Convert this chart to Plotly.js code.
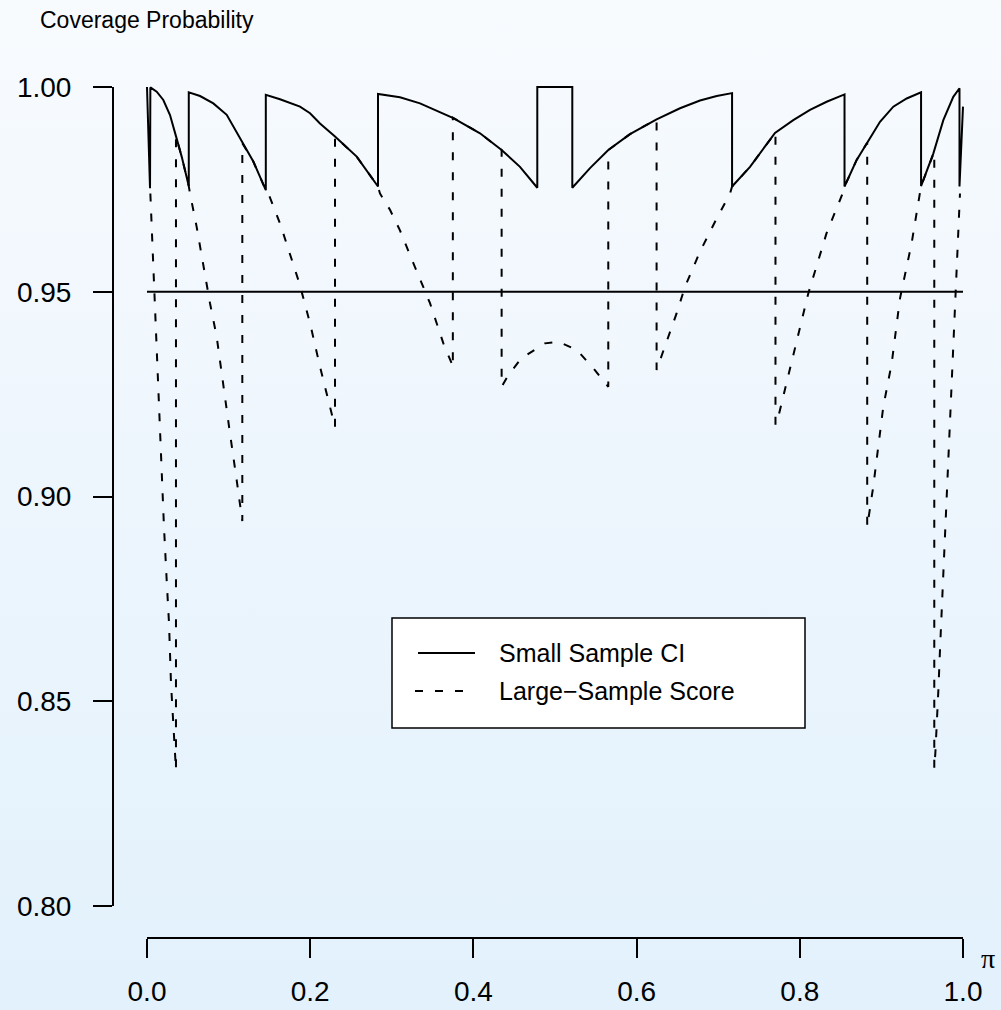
<!DOCTYPE html>
<html>
<head>
<meta charset="utf-8">
<script src="https://cdn.plot.ly/plotly-3.0.1.min.js"></script>
<style>
  html, body { margin: 0; padding: 0; }
  body { width: 1001px; height: 1010px; background: linear-gradient(to bottom, #f8fbfe 0%, #eef6fd 45%, #e2f1fc 100%); }
  #chart { width: 1001px; height: 1010px; }
</style>
</head>
<body>
<div id="chart"></div>
<script>
// ---- Data ----
// Small-sample CI coverage (solid line)
const smallX = [0.000, 0.0037, 0.0041, 0.0119, 0.0200, 0.0282, 0.0355, 0.0425, 0.0512, 0.0512, 0.0650, 0.0813, 0.0977, 0.1168, 0.1303, 0.1456, 0.1456, 0.1630, 0.1875, 0.1998, 0.2120, 0.2304, 0.2570, 0.2831, 0.2831, 0.3100, 0.3346, 0.3754, 0.4081, 0.4346, 0.4571, 0.4783, 0.4783, 0.5212, 0.5212, 0.5429, 0.5653, 0.5919, 0.6245, 0.6532, 0.6777, 0.6982, 0.7170, 0.7170, 0.7390, 0.7696, 0.7920, 0.8125, 0.8329, 0.8548, 0.8548, 0.8697, 0.8820, 0.8983, 0.9146, 0.9310, 0.9486, 0.9486, 0.9637, 0.9759, 0.9881, 0.9957, 0.9957, 1.0];
const smallY = [1.000, 0.9753, 0.9999, 0.99885, 0.99683, 0.99316, 0.9880, 0.9830, 0.9758, 0.9987, 0.9978, 0.9960, 0.9932, 0.9863, 0.9818, 0.9748, 0.9981, 0.9970, 0.9952, 0.9936, 0.9911, 0.9879, 0.9830, 0.9757, 0.9983, 0.9975, 0.9960, 0.9924, 0.9887, 0.9846, 0.9805, 0.9754, 1.000, 1.000, 0.9754, 0.9802, 0.9846, 0.9885, 0.9921, 0.9948, 0.9967, 0.9978, 0.9985, 0.9757, 0.9805, 0.9888, 0.9919, 0.9944, 0.9964, 0.9982, 0.9757, 0.9822, 0.9863, 0.9915, 0.9952, 0.9972, 0.9987, 0.9758, 0.9838, 0.9919, 0.9976, 0.9997, 0.9757, 0.9952];

// Large-sample score interval coverage (dashed line)
const scoreX = [0.0041, 0.0049, 0.0065, 0.0078, 0.0098, 0.0119, 0.0139, 0.0159, 0.0180, 0.0208, 0.0241, 0.0270, 0.0294, 0.0323, 0.0355, 0.0355, 0.0425, 0.0512, 0.0527, 0.0608, 0.0690, 0.0772, 0.0854, 0.0935, 0.1017, 0.1099, 0.1168, 0.1168, 0.1303, 0.1456, 0.1487, 0.1630, 0.1867, 0.1998, 0.2059, 0.2120, 0.2181, 0.2243, 0.2304, 0.2304, 0.2570, 0.2831, 0.2855, 0.2978, 0.3100, 0.3264, 0.3387, 0.3468, 0.3550, 0.3632, 0.3734, 0.3748, 0.3748, 0.4081, 0.4346, 0.4346, 0.4430, 0.4590, 0.4877, 0.5041, 0.5266, 0.5472, 0.5653, 0.5653, 0.5919, 0.6245, 0.6245, 0.6327, 0.6490, 0.6593, 0.6777, 0.6961, 0.7145, 0.7170, 0.7390, 0.7702, 0.7702, 0.7737, 0.7859, 0.8002, 0.8104, 0.8328, 0.8533, 0.8548, 0.8697, 0.8826, 0.8826, 0.8900, 0.9023, 0.9126, 0.9188, 0.9228, 0.9370, 0.9473, 0.9486, 0.9648, 0.9648, 0.9661, 0.9677, 0.9698, 0.9718, 0.9739, 0.9759, 0.9788, 0.9840, 0.9902, 0.9963];
const scoreY = [0.9740, 0.9700, 0.9618, 0.9537, 0.9447, 0.9341, 0.9244, 0.9146, 0.9049, 0.8926, 0.8796, 0.8690, 0.8544, 0.8438, 0.8332, 0.9880, 0.9830, 0.9758, 0.9740, 0.9659, 0.9561, 0.9472, 0.9390, 0.9268, 0.9154, 0.9040, 0.8940, 0.9863, 0.9818, 0.9748, 0.9740, 0.9667, 0.9521, 0.9423, 0.9366, 0.9317, 0.9268, 0.9215, 0.9170, 0.9879, 0.9830, 0.9757, 0.9740, 0.9700, 0.9650, 0.9570, 0.9512, 0.9472, 0.9423, 0.9374, 0.9325, 0.9315, 0.9925, 0.9887, 0.9846, 0.9268, 0.9297, 0.9338, 0.9374, 0.9378, 0.9358, 0.9313, 0.9268, 0.9846, 0.9885, 0.9921, 0.9309, 0.9354, 0.9447, 0.9512, 0.9598, 0.9671, 0.9740, 0.9757, 0.9805, 0.9889, 0.9175, 0.9195, 0.9293, 0.9407, 0.9496, 0.9643, 0.9744, 0.9757, 0.9822, 0.9864, 0.8926, 0.9024, 0.9219, 0.9325, 0.9423, 0.9484, 0.9618, 0.9740, 0.9758, 0.9842, 0.8336, 0.8373, 0.8430, 0.8527, 0.8625, 0.8723, 0.8820, 0.8926, 0.9170, 0.9480, 0.9740];

// Nominal level reference line
const nominalX = [0, 1];
const nominalY = [0.95, 0.95];

// Tick labels
const xTicks = [0.0, 0.2, 0.4, 0.6, 0.8, 1.0];
const xTickText = ["0.0", "0.2", "0.4", "0.6", "0.8", "1.0"];
const yTicks = [0.80, 0.85, 0.90, 0.95, 1.00];
const yTickText = ["0.80", "0.85", "0.90", "0.95", "1.00"];

const legendNames = ["Small Sample CI", "Large\u2212Sample Score"];

// ---- Chart ----
const FONT = "Liberation Sans, Arial, Helvetica, sans-serif";
const LW = 2;

const traces = [
  { x: nominalX, y: nominalY, type: "scatter", mode: "lines", line: { color: "#000", width: LW }, showlegend: false, hoverinfo: "skip" },
  { x: scoreX, y: scoreY, type: "scatter", mode: "lines", name: legendNames[1], line: { color: "#000", width: LW, dash: "8px,12px" }, showlegend: false },
  { x: smallX, y: smallY, type: "scatter", mode: "lines", name: legendNames[0], line: { color: "#000", width: LW }, showlegend: false }
];

// plot area: left edge px 113, right px 990, top px 60, bottom px 938
// x: 0 -> 147px, 1 -> 963px ; y: 1.00 -> 87px, 0.80 -> 906px
const W = 1001, H = 1010;
const mL = 113, mR = 11, mT = 60, mB = 72;
const pxPerX = 816, pxPerY = 4095;
const xr = [(mL - 147) / pxPerX, (W - mR - 147) / pxPerX];
const yr = [1 - (H - mB - 87) / pxPerY, 1 + (87 - mT) / pxPerY];

const plotW = W - mL - mR, plotH = H - mT - mB;
const px2paperX = p => (p - mL) / plotW;
const px2paperY = p => (H - mB - p) / plotH;

const shapes = [
  // x axis line (R-style, only across tick range)
  { type: "line", xref: "x", yref: "paper", x0: xTicks[0], x1: xTicks[xTicks.length - 1], y0: 0, y1: 0, line: { color: "#000", width: LW } },
  // y axis line
  { type: "line", xref: "paper", yref: "y", x0: 0, x1: 0, y0: yTicks[0], y1: yTicks[yTicks.length - 1], line: { color: "#000", width: LW } },
  // legend box
  { type: "rect", xref: "paper", yref: "paper", x0: px2paperX(392), x1: px2paperX(805), y0: px2paperY(728), y1: px2paperY(618), fillcolor: "#ffffff", line: { color: "#000", width: 1.5 }, layer: "above" },
  { type: "line", xref: "paper", yref: "paper", x0: px2paperX(418), x1: px2paperX(475), y0: px2paperY(653), y1: px2paperY(653), line: { color: "#000", width: LW }, layer: "above" },
  { type: "line", xref: "paper", yref: "paper", x0: px2paperX(415), x1: px2paperX(475), y0: px2paperY(691), y1: px2paperY(691), line: { color: "#000", width: LW, dash: "8px,12px" }, layer: "above" }
];

const annotations = [
  { text: "Coverage Probability", xref: "paper", yref: "paper", x: px2paperX(38), y: px2paperY(20), xanchor: "left", yanchor: "middle", showarrow: false, font: { family: FONT, size: 23, color: "#000" } },
  { text: "\u03c0", xref: "paper", yref: "paper", x: px2paperX(988), y: px2paperY(958), xanchor: "center", yanchor: "middle", showarrow: false, font: { family: "Liberation Serif, DejaVu Serif, serif", size: 28, color: "#000" } },
  { text: legendNames[0], xref: "paper", yref: "paper", x: px2paperX(497), y: px2paperY(653), xanchor: "left", yanchor: "middle", showarrow: false, font: { family: FONT, size: 25, color: "#000" } },
  { text: legendNames[1], xref: "paper", yref: "paper", x: px2paperX(497), y: px2paperY(691), xanchor: "left", yanchor: "middle", showarrow: false, font: { family: FONT, size: 25, color: "#000" } }
];

const layout = {
  width: W, height: H,
  margin: { l: mL, r: mR, t: mT, b: mB, pad: 0 },
  paper_bgcolor: "rgba(0,0,0,0)",
  plot_bgcolor: "rgba(0,0,0,0)",
  showlegend: false,
  font: { family: FONT, color: "#000" },
  xaxis: {
    range: xr, showgrid: false, zeroline: false, showline: false,
    tickmode: "array", tickvals: xTicks, ticktext: xTickText,
    ticks: "outside", ticklen: 19, tickwidth: LW, tickcolor: "#000",
    ticklabelstandoff: 9,
    tickfont: { family: FONT, size: 28, color: "#000" }
  },
  yaxis: {
    range: yr, showgrid: false, zeroline: false, showline: false,
    tickmode: "array", tickvals: yTicks, ticktext: yTickText,
    ticks: "outside", ticklen: 19, tickwidth: LW, tickcolor: "#000",
    ticklabelstandoff: 16,
    tickfont: { family: FONT, size: 28, color: "#000" }
  },
  shapes: shapes,
  annotations: annotations
};

Plotly.newPlot("chart", traces, layout, { displayModeBar: false, staticPlot: true });
</script>
</body>
</html>
